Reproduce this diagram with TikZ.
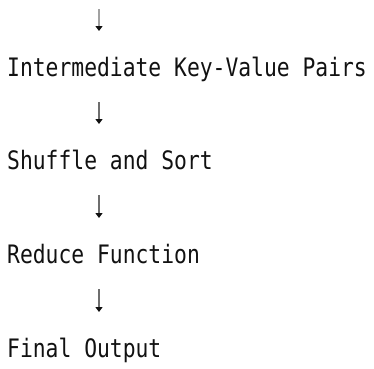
\documentclass[tikz,border=0pt]{standalone}
\usepackage{fontspec}
\usepackage{tikz}
\usetikzlibrary{arrows.meta, positioning}
\newfontfamily\flowmono[FakeStretch=0.84]{DejaVu Sans Mono}
\definecolor{flowink}{RGB}{17,17,17}
\definecolor{flowshaft}{RGB}{110,110,110}

\begin{document}
\begin{tikzpicture}[x=1bp, y=-1bp,
    stage/.style={anchor=base west, inner sep=0pt, text=flowink,
      font=\flowmono\fontsize{25.4bp}{30bp}\selectfont},
    flow/.style={flowshaft, line width=1.4bp, shorten <=26bp, shorten >=45bp,
      -{Triangle[flowink, width=7bp, length=5bp]}}]
    \useasboundingbox (0,0) rectangle (374,369);
    \coordinate (input) at (99,-17);
    \node[stage] (pairs)   at (7,76)  {Intermediate Key-Value Pairs};
    \node[stage] (shuffle) at (7,169) {Shuffle and Sort};
    \node[stage] (reduce)  at (7,263) {Reduce Function};
    \node[stage] (output)  at (7,357) {Final Output};
    % downward steps
    \draw[flow] (input) -- ([xshift=92bp]pairs.base west);
    \foreach \a/\b in {pairs/shuffle, shuffle/reduce, reduce/output}{
      \draw[flow] ([xshift=92bp]\a.base west) -- ([xshift=92bp]\b.base west);
    }
  \end{tikzpicture}
\end{document}
